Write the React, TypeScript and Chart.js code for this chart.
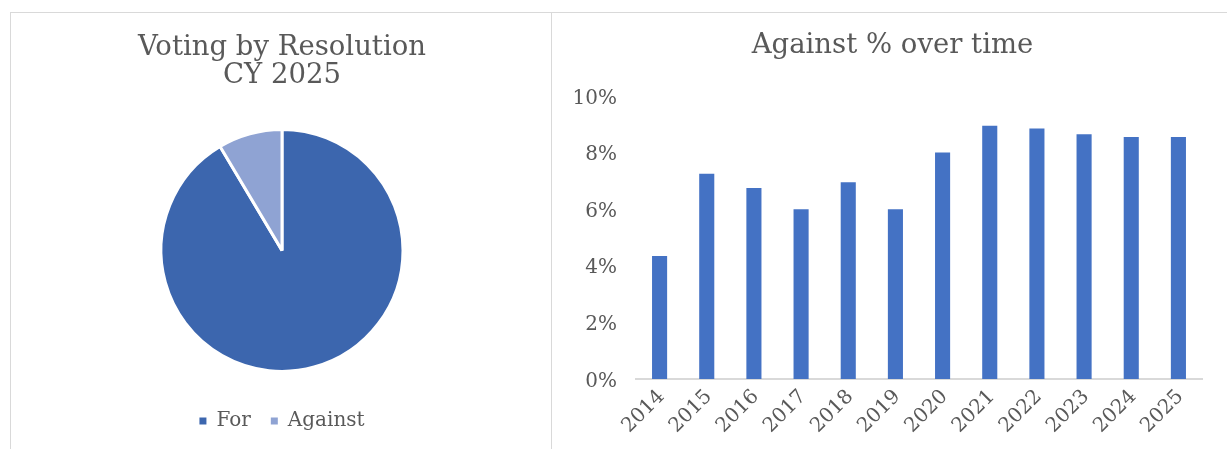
import React, { useEffect, useRef } from "react";
import { Chart, registerables } from "chart.js";

Chart.register(...registerables);

const pieLabels = ["For", "Against"];
const pieValues = [91.45, 8.55];
const pieColors = ["#3C66AE", "#8FA3D3"];

const years = ["2014", "2015", "2016", "2017", "2018", "2019", "2020", "2021", "2022", "2023", "2024", "2025"];
const againstPct = [4.35, 7.25, 6.75, 6.0, 6.95, 6.0, 8.0, 8.95, 8.85, 8.65, 8.55, 8.55];
const yTicks = [0, 2, 4, 6, 8, 10];

const FONT = "'DejaVu Serif', serif";
const TEXT = "#595959";
const GRID = "#d9d9d9";

export default function App() {
  const pieRef = useRef<HTMLCanvasElement | null>(null);
  const barRef = useRef<HTMLCanvasElement | null>(null);

  useEffect(() => {
    const defaultGen = (Chart as any).overrides.pie.plugins.legend.labels.generateLabels;
    const pie = new Chart(pieRef.current as HTMLCanvasElement, {
      type: "pie",
      data: {
        labels: pieLabels,
        datasets: [
          {
            data: pieValues,
            backgroundColor: pieColors,
            borderColor: "#ffffff",
            borderWidth: 3,
            radius: 121,
          } as any,
        ],
      },
      options: {
        responsive: false,
        animation: false,
        layout: { padding: { top: 0, bottom: 8, left: 2, right: 0 } },
        plugins: {
          title: {
            display: true,
            text: ["Voting by Resolution", "CY 2025"],
            color: TEXT,
            font: { family: FONT, size: 27.5, weight: "normal", lineHeight: 1.05 },
            padding: { top: 20, bottom: 19 },
          },
          legend: {
            position: "bottom",
            labels: {
              boxWidth: 7,
              boxHeight: 7,
              color: TEXT,
              padding: 20,
              font: { family: FONT, size: 20 },
              generateLabels: (chart: any) =>
                defaultGen(chart).map((l: any) => ({ ...l, lineWidth: 0 })),
            },
          },
          tooltip: { enabled: false },
        },
      },
    });

    const bar = new Chart(barRef.current as HTMLCanvasElement, {
      type: "bar",
      data: {
        labels: years,
        datasets: [
          {
            data: againstPct,
            backgroundColor: "#4472C4",
            barPercentage: 0.32,
            categoryPercentage: 1,
          },
        ],
      },
      options: {
        responsive: false,
        animation: false,
        layout: { padding: { top: 0, bottom: 0, left: 31, right: 25 } },
        plugins: {
          legend: { display: false },
          tooltip: { enabled: false },
          title: {
            display: true,
            text: "Against % over time",
            color: TEXT,
            font: { family: FONT, size: 27.5, weight: "normal", lineHeight: 1.05 },
            padding: { top: 18.7, bottom: 35.4 },
          },
        },
        scales: {
          y: {
            min: 0,
            max: 10,
            afterBuildTicks: (s: any) => {
              s.ticks = yTicks.map((v) => ({ value: v }));
            },
            ticks: {
              color: TEXT,
              font: { family: FONT, size: 20 },
              padding: 11,
              labelOffset: 2.5,
              callback: (v: any) => v + "%",
            },
            grid: { display: false },
            border: { display: false },
            afterFit: (s: any) => {
              s.width = 53;
              s._computeLabelArea = () => null;
            },
          },
          x: {
            grid: { display: false },
            border: { color: GRID, width: 2 },
            ticks: {
              color: TEXT,
              font: { family: FONT, size: 20 },
              minRotation: 45,
              maxRotation: 45,
              padding: -2,
              labelOffset: 2,
            },
            afterFit: (s: any) => {
              s.height = 70;
            },
          },
        },
      },
    });

    return () => {
      pie.destroy();
      bar.destroy();
    };
  }, []);

  return (
    <div
      style={{
        position: "fixed",
        left: 0,
        top: 0,
        width: 1227,
        height: 449,
        overflow: "hidden",
        background: "#ffffff",
      }}
    >
      <div
        style={{
          position: "absolute",
          left: 10,
          top: 12,
          width: 542,
          height: 470,
          border: `1px solid ${GRID}`,
          boxSizing: "border-box",
        }}
      />
      <div
        style={{
          position: "absolute",
          left: 551,
          top: 12,
          width: 700,
          height: 470,
          border: `1px solid ${GRID}`,
          boxSizing: "border-box",
        }}
      />
      <canvas
        ref={pieRef}
        width={540}
        height={436}
        style={{ position: "absolute", left: 11, top: 13, width: 540, height: 436 }}
      />
      <canvas
        ref={barRef}
        width={675}
        height={436}
        style={{ position: "absolute", left: 552, top: 13, width: 675, height: 436 }}
      />
    </div>
  );
}
